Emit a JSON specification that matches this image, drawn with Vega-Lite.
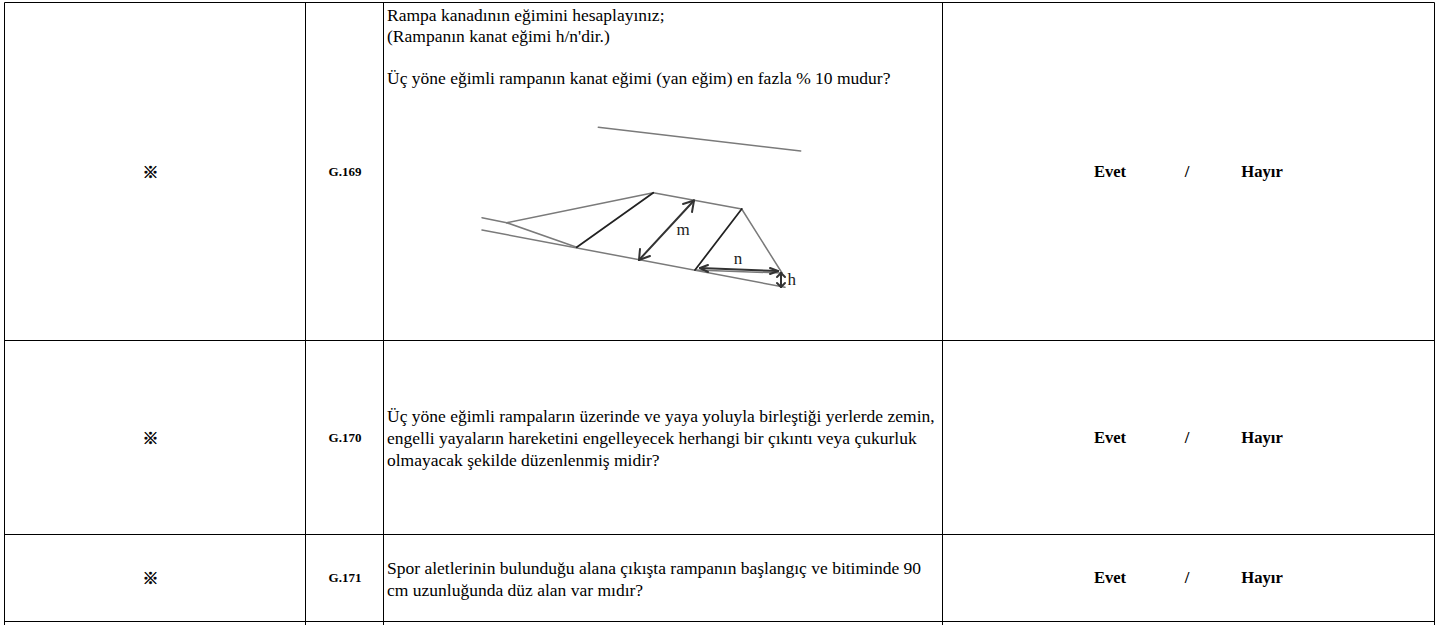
{"$schema":"https://vega.github.io/schema/vega-lite/v6.json","width":1451,"height":625,"padding":0,"autosize":{"type":"none"},"background":"white","view":{"stroke":null},
"datasets":{
"grid":[{"x":4.5,"x2":4.5,"y":2.5,"y2":625},{"x":305.5,"x2":305.5,"y":2.5,"y2":625},{"x":383.5,"x2":383.5,"y":2.5,"y2":625},{"x":942.5,"x2":942.5,"y":2.5,"y2":625},{"x":1434.5,"x2":1434.5,"y":2.5,"y2":625},{"x":4.5,"x2":1434.5,"y":2.5,"y2":2.5},{"x":4.5,"x2":1434.5,"y":340.5,"y2":340.5},{"x":4.5,"x2":1434.5,"y":534.5,"y2":534.5},{"x":4.5,"x2":1434.5,"y":621.5,"y2":621.5}],
"sketch":[
{"kind":"thin","x":598.3,"x2":800.7,"y":127.3,"y2":151},
{"kind":"thin","x":482,"x2":506.7,"y":217.7,"y2":222.7},
{"kind":"thin","x":482,"x2":785,"y":230,"y2":287.3},
{"kind":"thin","x":506.7,"x2":653.3,"y":222.7,"y2":192.7},
{"kind":"thin","x":506.7,"x2":576.7,"y":222.7,"y2":247.3},
{"kind":"thin","x":653.3,"x2":741.7,"y":192.7,"y2":209},
{"kind":"thin","x":741.7,"x2":782,"y":209,"y2":273},
{"kind":"thin","x":695,"x2":782,"y":270,"y2":273},
{"kind":"bold","x":576.7,"x2":653.3,"y":247.3,"y2":192.7},
{"kind":"bold","x":695,"x2":741.7,"y":270,"y2":209},
{"kind":"arrow","x":694,"x2":639,"y":200.5,"y2":260},
{"kind":"arrow","x":694,"x2":683,"y":200.5,"y2":204},
{"kind":"arrow","x":694,"x2":692,"y":200.5,"y2":212},
{"kind":"arrow","x":639,"x2":640,"y":260,"y2":249},
{"kind":"arrow","x":639,"x2":650,"y":260,"y2":256},
{"kind":"arrow","x":700,"x2":778,"y":268,"y2":271},
{"kind":"arrow","x":700,"x2":708,"y":268,"y2":265},
{"kind":"arrow","x":700,"x2":708,"y":268,"y2":272},
{"kind":"arrow","x":778,"x2":770,"y":271,"y2":268},
{"kind":"arrow","x":778,"x2":770,"y":271,"y2":274},
{"kind":"arrow","x":781,"x2":781,"y":273,"y2":287},
{"kind":"arrow","x":781,"x2":777,"y":273,"y2":277},
{"kind":"arrow","x":781,"x2":785,"y":273,"y2":277},
{"kind":"arrow","x":781,"x2":777,"y":287,"y2":283},
{"kind":"arrow","x":781,"x2":785,"y":287,"y2":283}],
"body":[
{"x":387,"y":21,"t":"Rampa kanadının eğimini hesaplayınız;"},
{"x":387,"y":42,"t":"(Rampanın kanat eğimi h/n'dir.)"},
{"x":387,"y":84,"t":"Üç yöne eğimli rampanın kanat eğimi (yan eğim) en fazla % 10 mudur?"},
{"x":387,"y":422,"t":"Üç yöne eğimli rampaların üzerinde ve yaya yoluyla birleştiği yerlerde zemin,"},
{"x":387,"y":444,"t":"engelli yayaların hareketini engelleyecek herhangi bir çıkıntı veya çukurluk"},
{"x":387,"y":466,"t":"olmayacak şekilde düzenlenmiş midir?"},
{"x":387,"y":574,"t":"Spor aletlerinin bulunduğu alana çıkışta rampanın başlangıç ve bitiminde 90"},
{"x":387,"y":596,"t":"cm uzunluğunda düz alan var mıdır?"}],
"code":[{"x":345,"y":176,"t":"G.169"},{"x":345,"y":442,"t":"G.170"},{"x":345,"y":582,"t":"G.171"}],
"star":[{"x":150.5,"y":178,"t":"※"},{"x":150.5,"y":444,"t":"※"},{"x":150.5,"y":584,"t":"※"}],
"answer":[{"x":1110,"y":177,"t":"Evet"},{"x":1187,"y":177,"t":"/"},{"x":1262,"y":177,"t":"Hayır"},{"x":1110,"y":443,"t":"Evet"},{"x":1187,"y":443,"t":"/"},{"x":1262,"y":443,"t":"Hayır"},{"x":1110,"y":583,"t":"Evet"},{"x":1187,"y":583,"t":"/"},{"x":1262,"y":583,"t":"Hayır"}],
"sketchText":[{"x":683,"y":235,"t":"m"},{"x":738,"y":264,"t":"n"},{"x":791.7,"y":285,"t":"h"}]
},
"encoding":{
"x":{"field":"x","type":"quantitative","scale":{"domain":[0,1451],"nice":false,"zero":false},"axis":null},
"y":{"field":"y","type":"quantitative","scale":{"domain":[625,0],"nice":false,"zero":false},"axis":null}},
"layer":[
{"data":{"name":"grid"},"mark":{"type":"rule","color":"#000","strokeWidth":1},"encoding":{"x2":{"field":"x2"},"y2":{"field":"y2"}}},
{"data":{"name":"sketch"},"mark":{"type":"rule","strokeCap":"round"},"encoding":{"x2":{"field":"x2"},"y2":{"field":"y2"},
"color":{"field":"kind","type":"nominal","legend":null,"scale":{"domain":["thin","bold","arrow"],"range":["#7a7a7a","#222222","#333333"]}},
"strokeWidth":{"field":"kind","type":"nominal","legend":null,"scale":{"domain":["thin","bold","arrow"],"range":[1.5,2,1.5]}}}},
{"data":{"name":"sketchText"},"mark":{"type":"text","font":"Liberation Serif","fontSize":17,"align":"center","baseline":"alphabetic","color":"#222"},"encoding":{"text":{"field":"t"}}},
{"data":{"name":"body"},"mark":{"type":"text","font":"Liberation Serif","fontSize":17.5,"align":"left","baseline":"alphabetic","color":"#000"},"encoding":{"text":{"field":"t"}}},
{"data":{"name":"code"},"mark":{"type":"text","font":"Liberation Serif","fontSize":13,"fontWeight":"bold","align":"center","baseline":"alphabetic","color":"#000"},"encoding":{"text":{"field":"t"}}},
{"data":{"name":"star"},"mark":{"type":"text","font":"Noto Sans CJK JP","fontSize":16,"fontWeight":"bold","align":"center","baseline":"alphabetic","color":"#000","stroke":"#000","strokeWidth":0.5},"encoding":{"text":{"field":"t"}}},
{"data":{"name":"answer"},"mark":{"type":"text","font":"Liberation Serif","fontSize":16.6,"fontWeight":"bold","align":"center","baseline":"alphabetic","color":"#000"},"encoding":{"text":{"field":"t"}}}
]}
